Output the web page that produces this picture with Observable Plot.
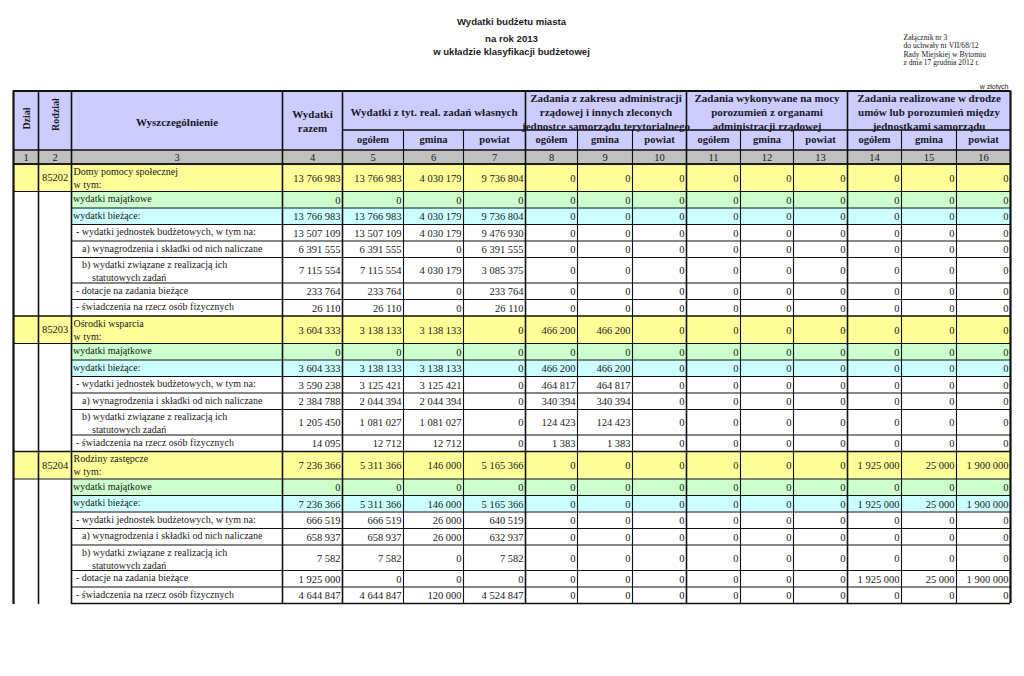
<!DOCTYPE html>
<html>
<head>
<meta charset="utf-8">
<script src="https://cdn.jsdelivr.net/npm/d3@7"></script>
<script src="https://cdn.jsdelivr.net/npm/@observablehq/plot@0.6"></script>
<style>
  html, body { margin: 0; padding: 0; background: #fff; }
  #chart svg { display: block; }
</style>
</head>
<body>
<div id="chart"></div>
<script>
// ---------------- DATA ----------------
const titleLines = ["Wydatki budżetu miasta", "na rok 2013", "w układzie klasyfikacji budżetowej"];
const noteLines = ["Załącznik nr 3", "do uchwały nr VII/68/12", "Rady Miejskiej w Bytomiu", "z dnia 17 grudnia 2012 r."];
const unitLabel = "w złotych";

const leadHeaders = ["Dział", "Rodział", "Wyszczególnienie", "Wydatki\nrazem"];
const groupHeaders = [
  "Wydatki z tyt. real. zadań własnych",
  "Zadania z zakresu administracji\nrządowej i innych zleconych\njednostce samorządu terytorialnego",
  "Zadania wykonywane na mocy\nporozumień z organami\nadministracji rządowej",
  "Zadania realizowane w drodze\numów lub porozumień między\njednostkami samorządu"
];
const subHeaders = ["ogółem", "gmina", "powiat"];
const columnNumbers = ["1", "2", "3", "4", "5", "6", "7", "8", "9", "10", "11", "12", "13", "14", "15", "16"];

const rodzialCodes = ["85202", "85203", "85204"];
const rodzialNames = ["Domy pomocy społecznej\nw tym:", "Ośrodki wsparcia\nw tym:", "Rodziny zastępcze\nw tym:"];

const rowLabelKeys = ["majątkowe", "bieżące", "jednostki", "wynagrodzenia", "statutowe", "dotacje", "świadczenia"];
const rowLabels = [
  "wydatki majątkowe",
  "wydatki bieżące:",
  "- wydatki jednostek budżetowych, w tym na:",
  "a) wynagrodzenia i składki od nich naliczane",
  "b) wydatki związane z realizacją ich\n\u00a0\u00a0\u00a0\u00a0statutowych zadań",
  "- dotacje na zadania bieżące",
  "- świadczenia na rzecz osób fizycznych"
];

// values: columns 4..16
const rowKeys85202 = ["ogółem", "majątkowe", "bieżące", "jednostki", "wynagrodzenia", "statutowe", "dotacje", "świadczenia"];
const values85202 = [
  [13766983, 13766983, 4030179, 9736804, 0, 0, 0, 0, 0, 0, 0, 0, 0],
  [0, 0, 0, 0, 0, 0, 0, 0, 0, 0, 0, 0, 0],
  [13766983, 13766983, 4030179, 9736804, 0, 0, 0, 0, 0, 0, 0, 0, 0],
  [13507109, 13507109, 4030179, 9476930, 0, 0, 0, 0, 0, 0, 0, 0, 0],
  [6391555, 6391555, 0, 6391555, 0, 0, 0, 0, 0, 0, 0, 0, 0],
  [7115554, 7115554, 4030179, 3085375, 0, 0, 0, 0, 0, 0, 0, 0, 0],
  [233764, 233764, 0, 233764, 0, 0, 0, 0, 0, 0, 0, 0, 0],
  [26110, 26110, 0, 26110, 0, 0, 0, 0, 0, 0, 0, 0, 0]
];

const rowKeys85203 = ["ogółem", "majątkowe", "bieżące", "jednostki", "wynagrodzenia", "statutowe", "świadczenia"];
const values85203 = [
  [3604333, 3138133, 3138133, 0, 466200, 466200, 0, 0, 0, 0, 0, 0, 0],
  [0, 0, 0, 0, 0, 0, 0, 0, 0, 0, 0, 0, 0],
  [3604333, 3138133, 3138133, 0, 466200, 466200, 0, 0, 0, 0, 0, 0, 0],
  [3590238, 3125421, 3125421, 0, 464817, 464817, 0, 0, 0, 0, 0, 0, 0],
  [2384788, 2044394, 2044394, 0, 340394, 340394, 0, 0, 0, 0, 0, 0, 0],
  [1205450, 1081027, 1081027, 0, 124423, 124423, 0, 0, 0, 0, 0, 0, 0],
  [14095, 12712, 12712, 0, 1383, 1383, 0, 0, 0, 0, 0, 0, 0]
];

const rowKeys85204 = ["ogółem", "majątkowe", "bieżące", "jednostki", "wynagrodzenia", "statutowe", "dotacje", "świadczenia"];
const values85204 = [
  [7236366, 5311366, 146000, 5165366, 0, 0, 0, 0, 0, 0, 1925000, 25000, 1900000],
  [0, 0, 0, 0, 0, 0, 0, 0, 0, 0, 0, 0, 0],
  [7236366, 5311366, 146000, 5165366, 0, 0, 0, 0, 0, 0, 1925000, 25000, 1900000],
  [666519, 666519, 26000, 640519, 0, 0, 0, 0, 0, 0, 0, 0, 0],
  [658937, 658937, 26000, 632937, 0, 0, 0, 0, 0, 0, 0, 0, 0],
  [7582, 7582, 0, 7582, 0, 0, 0, 0, 0, 0, 0, 0, 0],
  [1925000, 0, 0, 0, 0, 0, 0, 0, 0, 0, 1925000, 25000, 1900000],
  [4644847, 4644847, 120000, 4524847, 0, 0, 0, 0, 0, 0, 0, 0, 0]
];

// ---------------- LAYOUT ----------------
const W = 1024, H = 676;
const colEdges = [13, 38, 71, 282, 342, 403, 463, 525, 577, 632, 686, 740, 793, 847, 901, 956, 1010];
const yTop = 90.5, ySplit = 129.5, yHead = 149.5, yNums = 163.5;
const rowHeight = {total: 27.5, single: 16.5, double: 25.5};
const rowFill = {"ogółem": "#FFFF99", "majątkowe": "#CCFFCC", "bieżące": "#CCFFFF"};
const labelIndent = {"majątkowe": 0, "bieżące": 0, "jednostki": 3, "wynagrodzenia": 9, "statutowe": 9, "dotacje": 3, "świadczenia": 3};
const C_HEAD = "#CCCCFF", C_NUM = "#C0C0C0", C_LINE = "#111";
const SERIF = "'Liberation Serif', 'Times New Roman', serif";
const SANS = "'Liberation Sans', Arial, sans-serif";

const fmt = d3.formatLocale({decimal: ",", thousands: "\u00a0", grouping: [3], currency: ["", ""]}).format(",d");

const sections = [
  {code: rodzialCodes[0], name: rodzialNames[0], keys: rowKeys85202, values: values85202},
  {code: rodzialCodes[1], name: rodzialNames[1], keys: rowKeys85203, values: values85203},
  {code: rodzialCodes[2], name: rodzialNames[2], keys: rowKeys85204, values: values85204}
];

const cells = [], hlines = [], vlines = [];
const numTexts = [], labelTexts = [], codeTexts = [];
const xL = colEdges[0], xR = colEdges[colEdges.length - 1];

// header fills
cells.push({x1: xL, x2: xR, y1: yTop, y2: yHead, fill: C_HEAD});
cells.push({x1: xL, x2: xR, y1: yHead, y2: yNums, fill: C_NUM});

let y = yNums;
sections.forEach((s) => {
  s.keys.forEach((key, r) => {
    const kind = key === "ogółem" ? "total" : key === "statutowe" ? "double" : "single";
    const h = rowHeight[kind];
    const y1 = y, y2 = y + h;
    const fill = rowFill[key] || "#FFFFFF";
    const isTotal = key === "ogółem";
    cells.push({x1: isTotal ? xL : colEdges[2], x2: xR, y1, y2, fill});
    if (!isTotal) cells.push({x1: xL, x2: colEdges[2], y1, y2, fill: "#FFFFFF"});
    hlines.push({y: y1, x1: (isTotal || r === 1) ? xL : colEdges[2], x2: xR, sw: isTotal ? 1.6 : 1.1});
    s.values[r].forEach((v, j) => {
      numTexts.push({x: colEdges[j + 4] - 2, y: (y1 + y2) / 2 + 0.5, text: fmt(v)});
    });
    if (isTotal) {
      labelTexts.push({x: colEdges[2] + 2, y: y1 + 1.5, text: s.name});
      codeTexts.push({x: (colEdges[1] + colEdges[2]) / 2, y: (y1 + y2) / 2, text: s.code});
    } else {
      const li = rowLabelKeys.indexOf(key);
      labelTexts.push({x: colEdges[2] + 1.5 + labelIndent[key], y: y1 + 1.5, text: rowLabels[li]});
    }
    y = y2;
  });
});
const yBottom = y;
hlines.push({y: yBottom, x1: colEdges[2], x2: xR, sw: 1.3});

hlines.push({y: yTop, x1: xL, x2: xR, sw: 2.2});
hlines.push({y: ySplit, x1: colEdges[4], x2: xR, sw: 1.6});
hlines.push({y: yHead, x1: xL, x2: xR, sw: 1.4});
hlines.push({y: yNums, x1: xL, x2: xR, sw: 1.6});

colEdges.forEach((x, i) => {
  const major = i <= 4 || (i - 4) % 3 === 0;
  const outer = i === 0 || i === colEdges.length - 1;
  vlines.push({x, y1: major ? yTop : ySplit, y2: i <= 2 ? yBottom + 1 : yBottom, sw: outer ? 2.2 : major ? 1.6 : 1.1});
});

const headBold = [
  {x: (colEdges[2] + colEdges[3]) / 2, y: (yTop + yHead) / 2 + 1, text: leadHeaders[2]},
  {x: (colEdges[3] + colEdges[4]) / 2, y: (yTop + yHead) / 2, text: leadHeaders[3]}
];
groupHeaders.forEach((g, i) => {
  headBold.push({x: (colEdges[4 + 3 * i] + colEdges[7 + 3 * i]) / 2, y: (yTop + ySplit) / 2 + 1, text: g});
});
const rotated = [
  {x: (colEdges[0] + colEdges[1]) / 2 + 1, y: (yTop + yHead) / 2 - 2, text: leadHeaders[0]},
  {x: (colEdges[1] + colEdges[2]) / 2 + 1, y: (yTop + yHead) / 2 - 6, text: leadHeaders[1]}
];
const subTexts = [];
for (let g = 0; g < 4; g++) subTexts.push(...subHeaders.map((t, k) => ({x: (colEdges[4 + 3 * g + k] + colEdges[5 + 3 * g + k]) / 2, y: (ySplit + yHead) / 2, text: t})));
const numRow = columnNumbers.map((t, i) => ({x: (colEdges[i] + colEdges[i + 1]) / 2, y: (yHead + yNums) / 2 + 0.5, text: t}));

const titleTexts = titleLines.map((t, i) => ({x: 511, y: [21, 38, 51][i], text: t}));
const noteTexts = noteLines.map((t, i) => ({x: 903, y: 37 + i * 8.5, text: t}));

const chart = Plot.plot({
  width: W, height: H,
  marginTop: 0, marginRight: 0, marginBottom: 0, marginLeft: 0,
  x: {type: "linear", domain: [0, W], range: [0, W], axis: null},
  y: {type: "linear", domain: [0, H], range: [0, H], axis: null},
  style: {fontFamily: SERIF, background: "#fff", color: "#111", overflow: "visible"},
  marks: [
    Plot.rect(cells, {x1: "x1", x2: "x2", y1: "y1", y2: "y2", fill: "fill"}),
    Plot.ruleY(hlines, {y: "y", x1: "x1", x2: "x2", stroke: C_LINE, strokeWidth: "sw"}),
    Plot.ruleX(vlines, {x: "x", y1: "y1", y2: "y2", stroke: C_LINE, strokeWidth: "sw"}),
    Plot.text(titleTexts, {x: "x", y: "y", text: "text", fontFamily: SANS, fontWeight: "bold", fontSize: 9.6, fill: "#222"}),
    Plot.text(noteTexts, {x: "x", y: "y", text: "text", textAnchor: "start", fontFamily: SERIF, fontSize: 7.6, fill: "#222"}),
    Plot.text([{x: 1008, y: 86, text: unitLabel}], {x: "x", y: "y", text: "text", textAnchor: "end", fontFamily: SANS, fontSize: 7, fill: "#222"}),
    Plot.text(headBold, {x: "x", y: "y", text: "text", fontFamily: SERIF, fontWeight: "bold", fontSize: 11, lineHeight: 1.25, fill: "#1a1a2a"}),
    Plot.text(rotated, {x: "x", y: "y", text: "text", rotate: -90, fontFamily: SERIF, fontWeight: "bold", fontSize: 10, fill: "#1a1a2a"}),
    Plot.text(subTexts, {x: "x", y: "y", text: "text", fontFamily: SERIF, fontWeight: "bold", fontSize: 10.5, fill: "#1a1a2a"}),
    Plot.text(numRow, {x: "x", y: "y", text: "text", fontFamily: SERIF, fontSize: 10.5, fill: "#1a1a1a"}),
    Plot.text(codeTexts, {x: "x", y: "y", text: "text", fontFamily: SERIF, fontSize: 10.5, fill: "#1a1a1a"}),
    Plot.text(labelTexts, {x: "x", y: "y", text: "text", textAnchor: "start", lineAnchor: "top", lineHeight: 1.3, fontFamily: SERIF, fontSize: 10, fill: "#1a1a1a"}),
    Plot.text(numTexts, {x: "x", y: "y", text: "text", textAnchor: "end", fontFamily: SERIF, fontSize: 10.5, fill: "#1a1a1a"})
  ]
});
document.getElementById("chart").appendChild(chart);
</script>
</body>
</html>
